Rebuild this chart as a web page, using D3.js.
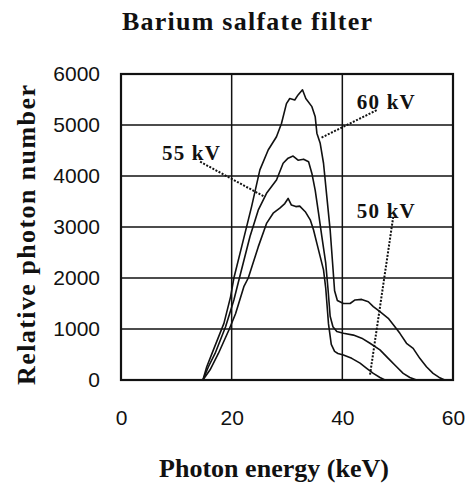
<!DOCTYPE html>
<html>
<head>
<meta charset="utf-8">
<script src="https://cdn.jsdelivr.net/npm/d3@7"></script>
<style>
  html, body { margin: 0; padding: 0; background: #fff; }
  svg text { fill: #111; }
</style>
</head>
<body>
<div id="chart"></div>
<script>
// axis ticks
const xTicks = [0, 20, 40, 60];
const yTicks = [0, 1000, 2000, 3000, 4000, 5000, 6000];

// spectra: [photon energy keV, relative photon number]
const kv60 = [
  [14.8, 0], [15.5, 260], [16.7, 590], [18.6, 1110], [19.8, 1630], [20.4, 2000],
  [21.8, 2610], [23.6, 3400], [25.1, 4120], [26.6, 4510], [28.1, 4770], [29.0, 5030],
  [29.9, 5420], [30.5, 5520], [31.4, 5490], [32.0, 5590], [32.8, 5690], [33.4, 5520],
  [34.5, 5360], [35.1, 5160], [35.4, 4840], [36.0, 4640], [36.6, 4250], [37.2, 3590],
  [37.8, 2940], [38.3, 2200], [38.6, 1750], [39.1, 1560], [40.2, 1500], [41.4, 1500],
  [42.3, 1570], [43.5, 1580], [44.7, 1535], [45.6, 1440], [46.8, 1340], [48.3, 1210],
  [49.5, 1045], [50.4, 915], [51.6, 720], [52.8, 620], [54.0, 425], [55.2, 260],
  [56.4, 130], [57.5, 50], [58.5, 0]
];
const kv55 = [
  [14.8, 0], [15.8, 260], [17.0, 520], [18.9, 1045], [20.4, 1570], [21.4, 2000],
  [23.3, 2810], [24.8, 3330], [26.3, 3660], [28.1, 3920], [29.3, 4250], [30.2, 4350],
  [31.1, 4390], [32.0, 4310], [33.0, 4330], [33.9, 4280], [34.5, 4050], [35.1, 3720],
  [35.7, 3270], [36.3, 2810], [37.0, 2290], [37.4, 1800], [37.8, 1250], [38.3, 1045],
  [39.0, 950], [40.2, 915], [42.0, 880], [43.5, 820], [45.0, 720], [46.8, 590],
  [48.3, 425], [49.8, 260], [51.0, 130], [52.2, 50], [53.4, 0]
];
const kv50 = [
  [14.8, 0], [16.1, 200], [17.6, 520], [19.5, 980], [20.7, 1300], [22.2, 1830],
  [23.0, 2000], [24.8, 2610], [26.3, 3070], [27.5, 3270], [28.7, 3370], [29.6, 3460],
  [30.2, 3560], [30.8, 3430], [31.6, 3400], [32.3, 3410], [33.3, 3300], [34.2, 3140],
  [34.8, 2940], [35.4, 2680], [36.0, 2420], [36.6, 2160], [37.0, 1800], [37.5, 1100],
  [38.0, 700], [38.6, 560], [39.2, 520], [40.2, 490], [41.7, 425], [43.2, 330],
  [44.4, 230], [45.6, 130], [46.8, 50], [47.7, 0]
];

// curve labels and dotted leaders (text anchor, leader start, leader end)
const labels = [
  { name: "60 kV", at: [42.6, 5310], from: [46.2, 5290], to: [36.0, 4740] },
  { name: "55 kV", at: [7.4, 4310], from: [14.3, 4280], to: [26.0, 3590] },
  { name: "50 kV", at: [42.6, 3170], from: [49.2, 3200], to: [45.0, 100] }
];

const width = 470, height = 487;
const plotLeft = 121, plotRight = 453, plotTop = 74, plotBottom = 380;

const svg = d3.select("#chart").append("svg")
  .attr("width", width)
  .attr("height", height);

const x = d3.scaleLinear().domain([0, 60]).range([plotLeft, plotRight]);
const y = d3.scaleLinear().domain([0, 6000]).range([plotBottom, plotTop]);

// grid
svg.append("g")
  .selectAll("line")
  .data(yTicks.slice(1, -1))
  .join("line")
  .attr("x1", plotLeft).attr("x2", plotRight)
  .attr("y1", d => y(d)).attr("y2", d => y(d))
  .attr("stroke", "#111").attr("stroke-width", 1.5);

svg.append("g")
  .selectAll("line")
  .data(xTicks.slice(1, -1))
  .join("line")
  .attr("y1", plotTop).attr("y2", plotBottom)
  .attr("x1", d => x(d)).attr("x2", d => x(d))
  .attr("stroke", "#111").attr("stroke-width", 1.5);

// frame
svg.append("rect")
  .attr("x", plotLeft).attr("y", plotTop)
  .attr("width", plotRight - plotLeft).attr("height", plotBottom - plotTop)
  .attr("fill", "none").attr("stroke", "#111").attr("stroke-width", 2.2);

// tick labels
const tickFont = "'Liberation Sans', Arial, sans-serif";
const yAxis = svg.append("g")
  .attr("transform", `translate(${plotLeft},0)`)
  .call(d3.axisLeft(y).tickValues(yTicks).tickSize(0).tickPadding(21).tickFormat(d3.format("d")));
yAxis.select(".domain").remove();
yAxis.selectAll("text")
  .attr("font-family", tickFont).attr("font-size", 21).attr("fill", "#111");

const xAxis = svg.append("g")
  .attr("transform", `translate(0,${plotBottom})`)
  .call(d3.axisBottom(x).tickValues(xTicks).tickSize(0).tickPadding(30).tickFormat(d3.format("d")));
xAxis.select(".domain").remove();
xAxis.selectAll("text")
  .attr("font-family", tickFont).attr("font-size", 21).attr("fill", "#111");

// spectra
const line = d3.line().x(d => x(d[0])).y(d => y(d[1]));
svg.append("g")
  .selectAll("path")
  .data([kv60, kv55, kv50])
  .join("path")
  .attr("d", line)
  .attr("fill", "none")
  .attr("stroke", "#111")
  .attr("stroke-width", 1.6)
  .attr("stroke-linejoin", "round");

// leaders and labels
const serif = "'Liberation Serif', 'Times New Roman', serif";
svg.append("g")
  .selectAll("line")
  .data(labels)
  .join("line")
  .attr("x1", d => x(d.from[0])).attr("y1", d => y(d.from[1]))
  .attr("x2", d => x(d.to[0])).attr("y2", d => y(d.to[1]))
  .attr("stroke", "#111").attr("stroke-width", 2)
  .attr("stroke-dasharray", "2,1.5");

svg.append("g")
  .selectAll("text")
  .data(labels)
  .join("text")
  .attr("x", d => x(d.at[0])).attr("y", d => y(d.at[1]))
  .attr("font-family", serif).attr("font-weight", "bold").attr("font-size", 21)
  .attr("textLength", 58).attr("lengthAdjust", "spacing")
  .text(d => d.name);

// title and axis titles
svg.append("text")
  .attr("x", 122).attr("y", 30)
  .attr("font-family", serif).attr("font-weight", "bold").attr("font-size", 26)
  .attr("textLength", 250).attr("lengthAdjust", "spacing")
  .text("Barium salfate filter");

svg.append("text")
  .attr("x", 159).attr("y", 477)
  .attr("font-family", serif).attr("font-weight", "bold").attr("font-size", 26)
  .attr("textLength", 230).attr("lengthAdjust", "spacing")
  .text("Photon energy (keV)");

svg.append("text")
  .attr("transform", "translate(35,385) rotate(-90)")
  .attr("font-family", serif).attr("font-weight", "bold").attr("font-size", 26)
  .attr("textLength", 300).attr("lengthAdjust", "spacing")
  .text("Relative photon number");
</script>
</body>
</html>
